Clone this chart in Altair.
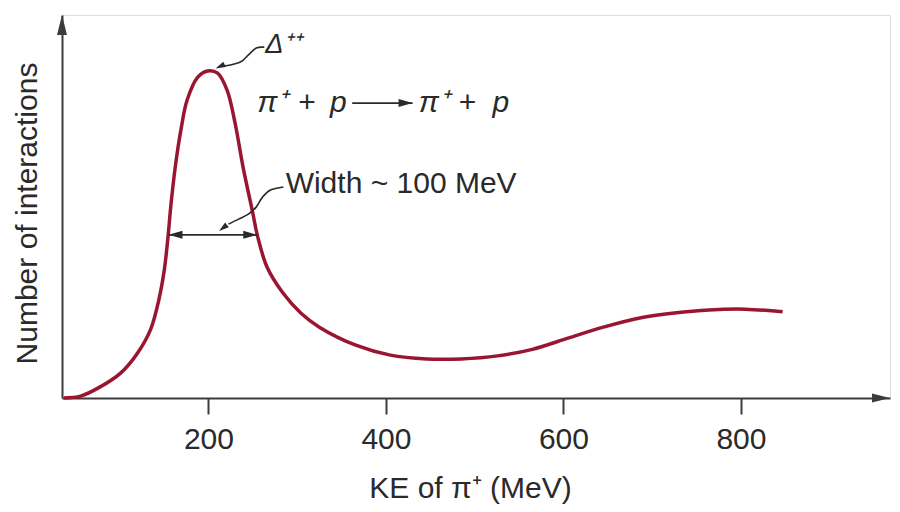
import altair as alt
import pandas as pd

# ---- curve data (KE of pi+ in MeV, number of interactions in arbitrary units)
ke = [37, 56, 78, 101, 120, 135, 144, 150, 154, 158, 163, 169, 176, 188, 199,
      210, 221, 230, 239, 250, 255, 266, 284, 304, 325, 366, 405, 446, 485, 526,
      565, 606, 645, 686, 725, 764, 805, 847]
n = [0, 0.5, 2.9, 6.5, 11.7, 18.0, 25.5, 33.0, 41.0, 51.0, 61.0, 70.0, 77.8, 83.8,
     85.4, 84.9, 80.4, 71.8, 60.3, 48.3, 42.6, 34.2, 27.4, 22.2, 18.5, 13.8, 11.2,
     10.2, 10.2, 11.0, 12.7, 15.7, 18.5, 20.9, 22.2, 23.0, 23.2, 22.5]

tick_values = [200, 400, 600, 800]
x_title = "KE of π⁺ (MeV)"
y_title = "Number of interactions"
x_domain = [35, 968]
y_domain = [0, 100]

# ---- annotations (data units)
delta_text = ["Δ⁺⁺"]
delta_ke = [264]
delta_n = [90.0]

delta_ptr_ke = [263, 254, 246, 238, 229, 218]
delta_ptr_n = [91.6, 91.4, 89.8, 88.0, 87.2, 86.7]
delta_head = ([208], [86.0])

react_pi_text = ["π⁺", "π⁺"]
react_pi_ke = [255, 437]
react_plus_text = ["+", "+"]
react_plus_ke = [311, 492]
react_p_text = ["p", "p"]
react_p_ke = [337, 520]
react_n = 74.7
react_arrow_ke = [362, 430]

width_text = ["Width ~ 100 MeV"]
width_ke = [287]
width_n = [53.6]

width_ptr_ke = [284.5, 270, 261, 254, 245, 234, 222.5]
width_ptr_n = [55.1, 54.3, 52.5, 49.9, 48.0, 46.7, 45.4]
width_head = ([212], [43.6])

width_bar_ke = [155, 255]
width_bar_n = 42.6

FONT = "Liberation Sans"
RED = "#9a1530"
INK = "#2a2a2a"
AXIS = "#3c3c3c"

x_enc = alt.X("ke:Q", scale=alt.Scale(domain=x_domain, nice=False, zero=False),
              axis=alt.Axis(values=tick_values, format="d", grid=False,
                            domainColor=AXIS, domainWidth=2,
                            tickColor=AXIS, tickWidth=2, tickSize=16,
                            labelFont=FONT, labelFontSize=30, labelColor=INK,
                            labelPadding=10, labelFlush=False,
                            title=x_title, titleFont=FONT, titleFontSize=30,
                            titleFontWeight="normal", titleColor=INK,
                            titleX=408, titleY=99, titleAlign="center",
                            titleBaseline="alphabetic"))
y_enc = alt.Y("n:Q", scale=alt.Scale(domain=y_domain, nice=False, zero=False),
              axis=alt.Axis(ticks=False, labels=False, grid=False,
                            domainColor=AXIS, domainWidth=2,
                            title=y_title, titleFont=FONT, titleFontSize=30,
                            titleFontWeight="normal", titleColor=INK,
                            titleX=-35, titleY=198, titleAngle=-90,
                            titleAlign="center", titleBaseline="middle"))

curve_df = pd.DataFrame({"ke": ke, "n": n})
curve = alt.Chart(curve_df).mark_line(color=RED, strokeWidth=3.5,
                                      interpolate="catmull-rom").encode(x=x_enc, y=y_enc)

# axis arrowheads
xhead = alt.Chart(pd.DataFrame({"ke": [x_domain[1]], "n": [y_domain[0]]})).mark_point(
    shape="M0,0L-2,-0.5L-2,0.5Z", size=324, filled=True, opacity=1, color=AXIS
).encode(x=x_enc, y=y_enc)
yhead = alt.Chart(pd.DataFrame({"ke": [x_domain[0]], "n": [y_domain[1]]})).mark_point(
    shape="M0,0L0.5,2L-0.5,2Z", size=400, filled=True, opacity=1, color=AXIS
).encode(x=x_enc, y=y_enc)

# width double arrow
bar_df = pd.DataFrame({"ke": width_bar_ke, "n": [width_bar_n] * 2})
bar = alt.Chart(bar_df).mark_line(color=INK, strokeWidth=1.8).encode(x=x_enc, y=y_enc)
bar_l = alt.Chart(bar_df.iloc[[0]]).mark_point(
    shape="M0,0L2,-0.57L2,0.57Z", size=196, filled=True, opacity=1, color=INK
).encode(x=x_enc, y=y_enc)
bar_r = alt.Chart(bar_df.iloc[[1]]).mark_point(
    shape="M0,0L-2,-0.57L-2,0.57Z", size=196, filled=True, opacity=1, color=INK
).encode(x=x_enc, y=y_enc)

# wavy pointers
def pointer(pke, pn, head, angle):
    df = pd.DataFrame({"ke": pke, "n": pn, "i": list(range(len(pke)))})
    ln = alt.Chart(df).mark_line(color=INK, strokeWidth=1.6, interpolate="cardinal").encode(
        x=x_enc, y=y_enc, order="i:Q")
    hd = alt.Chart(pd.DataFrame({"ke": head[0], "n": head[1]})).mark_point(
        shape="M0,0L2,-0.6L2,0.6Z", size=100, filled=True, opacity=1, color=INK,
        angle=angle).encode(x=x_enc, y=y_enc)
    return ln + hd

dptr = pointer(delta_ptr_ke, delta_ptr_n, delta_head, 335)
wptr = pointer(width_ptr_ke, width_ptr_n, width_head, 322)

# reaction arrow
rdf = pd.DataFrame({"ke": react_arrow_ke, "n": [react_n + 2.3] * 2})
rline = alt.Chart(rdf).mark_line(color=INK, strokeWidth=1.8).encode(x=x_enc, y=y_enc)
rhead = alt.Chart(rdf.iloc[[1]]).mark_point(
    shape="M0,0L-2,-0.57L-2,0.57Z", size=196, filled=True, opacity=1, color=INK
).encode(x=x_enc, y=y_enc)

def label(texts, kes, ns, size, style="normal", align="left"):
    df = pd.DataFrame({"ke": kes, "n": ns, "t": texts})
    return alt.Chart(df).mark_text(font=FONT, fontSize=size, fontStyle=style,
                                   align=align, baseline="alphabetic", color=INK).encode(
        x=x_enc, y=y_enc, text="t:N")

t_delta = label(delta_text, delta_ke, delta_n, 27, "italic")
t_pi = label(react_pi_text, react_pi_ke, [react_n] * 2, 30, "italic")
t_plus = label(react_plus_text, react_plus_ke, [react_n] * 2, 30, "normal", "center")
t_p = label(react_p_text, react_p_ke, [react_n] * 2, 30, "italic")
t_width = label(width_text, width_ke, width_n, 30)

chart = alt.layer(
    curve, xhead, yhead, bar, bar_l, bar_r, dptr, wptr, rline, rhead,
    t_delta, t_pi, t_plus, t_p, t_width
).properties(
    width=828, height=383, autosize="none",
    padding={"left": 54, "top": 7, "right": 2, "bottom": 106}
).configure_view(stroke=None).configure(background="white")

chart.save("out.html", embed_options={"renderer": "svg", "actions": False})
